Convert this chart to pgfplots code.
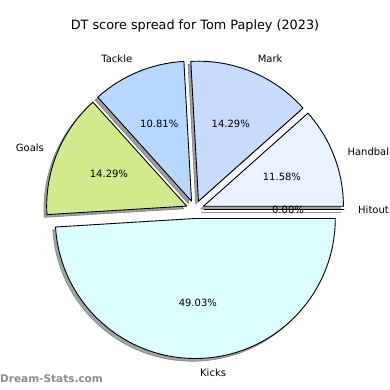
\documentclass[border=0pt]{standalone}
\usepackage{pgfplots}
\pgfplotsset{compat=1.18}
\usepackage{pgfplotstable}
\usepackage{fontspec}
\setmainfont{DejaVu Sans}

\definecolor{cHit}{RGB}{200,220,250}
\definecolor{cHan}{RGB}{234,241,255}
\definecolor{cMar}{RGB}{199,218,255}
\definecolor{cTac}{RGB}{184,215,255}
\definecolor{cGoa}{RGB}{208,234,140}
\definecolor{cKic}{RGB}{220,255,255}
\definecolor{wmgray}{RGB}{140,140,140}

\pgfplotstableread{
label value col
Hitout 0.00 cHit
Handball 11.58 cHan
Mark 14.29 cMar
Tackle 10.81 cTac
Goals 14.29 cGoa
Kicks 49.03 cKic
}\piedata

\def\cx{195}\def\cy{180.5}\def\R{140}\def\Rpt{140pt}\def\ex{9}
\gdef\cumangle{0}
\pgfplotsforeachungrouped \ii in {0,...,5}{%
  \pgfplotstablegetelem{\ii}{value}\of\piedata \let\myv=\pgfplotsretval
  \pgfplotstablegetelem{\ii}{label}\of\piedata \let\myl=\pgfplotsretval
  \pgfplotstablegetelem{\ii}{col}\of\piedata \let\myc=\pgfplotsretval
  \pgfmathsetmacro\aS{\cumangle}%
  \pgfmathsetmacro\aE{\cumangle+3.6*\myv}%
  \pgfmathsetmacro\aM{0.5*(\aS+\aE)}%
  \pgfmathsetmacro\wx{\cx+\ex*cos(\aM)}%
  \pgfmathsetmacro\wy{\cy+\ex*sin(\aM)}%
  \pgfmathsetmacro\lx{\wx+1.1*\R*cos(\aM)}%
  \pgfmathsetmacro\ly{\wy+1.1*\R*sin(\aM)}%
  \pgfmathsetmacro\px{\wx+0.6*\R*cos(\aM)}%
  \pgfmathsetmacro\py{\wy+0.6*\R*sin(\aM)}%
  \pgfmathparse{cos(\aM)<0 ? 1 : 0}%
  \ifdim\pgfmathresult pt>0.5pt \def\anc{east}\else\def\anc{west}\fi
  \expandafter\xdef\csname wS\ii\endcsname{\aS}%
  \expandafter\xdef\csname wE\ii\endcsname{\aE}%
  \expandafter\xdef\csname wX\ii\endcsname{\wx}%
  \expandafter\xdef\csname wY\ii\endcsname{\wy}%
  \expandafter\xdef\csname lX\ii\endcsname{\lx}%
  \expandafter\xdef\csname lY\ii\endcsname{\ly}%
  \expandafter\xdef\csname pX\ii\endcsname{\px}%
  \expandafter\xdef\csname pY\ii\endcsname{\py}%
  \expandafter\xdef\csname wA\ii\endcsname{\anc}%
  \expandafter\xdef\csname wL\ii\endcsname{\myl}%
  \expandafter\xdef\csname wV\ii\endcsname{\myv}%
  \expandafter\xdef\csname wC\ii\endcsname{\myc}%
  \xdef\cumangle{\aE}%
}

\begin{document}
\begin{tikzpicture}
\begin{axis}[x=1pt, y=1pt, xmin=0, xmax=390, ymin=0, ymax=390, hide axis, clip=false]
% shadows
\pgfplotsinvokeforeach{0,...,5}{%
  \filldraw[fill=\csname wC#1\endcsname!30!black, draw=\csname wC#1\endcsname!30!black,
    opacity=0.5, line width=0.6pt, xshift=-2.8pt, yshift=-2.8pt]
    (axis cs:\csname wX#1\endcsname,\csname wY#1\endcsname) -- ++(\csname wS#1\endcsname:\Rpt)
    arc[start angle=\csname wS#1\endcsname, end angle=\csname wE#1\endcsname, radius=\Rpt] -- cycle;
}
% wedges
\pgfplotsinvokeforeach{0,...,5}{%
  \filldraw[fill=\csname wC#1\endcsname, draw=black, line width=0.9pt, line join=round]
    (axis cs:\csname wX#1\endcsname,\csname wY#1\endcsname) -- ++(\csname wS#1\endcsname:\Rpt)
    arc[start angle=\csname wS#1\endcsname, end angle=\csname wE#1\endcsname, radius=\Rpt] -- cycle;
}
% labels
\pgfplotsinvokeforeach{0,...,5}{%
  \node[anchor=\csname wA#1\endcsname, inner sep=0pt, font=\fontsize{10}{12}\selectfont]
    at (axis cs:\csname lX#1\endcsname,\csname lY#1\endcsname) {\csname wL#1\endcsname};
  \node[inner sep=0pt, font=\fontsize{10}{12}\selectfont]
    at (axis cs:\csname pX#1\endcsname,\csname pY#1\endcsname) {\csname wV#1\endcsname\%};
}
\node[font=\fontsize{12.8}{15}\selectfont] at (axis cs:195,364) {DT score spread for Tom Papley (2023)};
\node[anchor=west, inner sep=0pt, text=wmgray, font=\bfseries\fontsize{10.5}{12}\selectfont] at (axis cs:0,11) {Dream-Stats.com};
\end{axis}
\pgfresetboundingbox
\path (current axis.south west) rectangle (current axis.north east);
\end{tikzpicture}
\end{document}
